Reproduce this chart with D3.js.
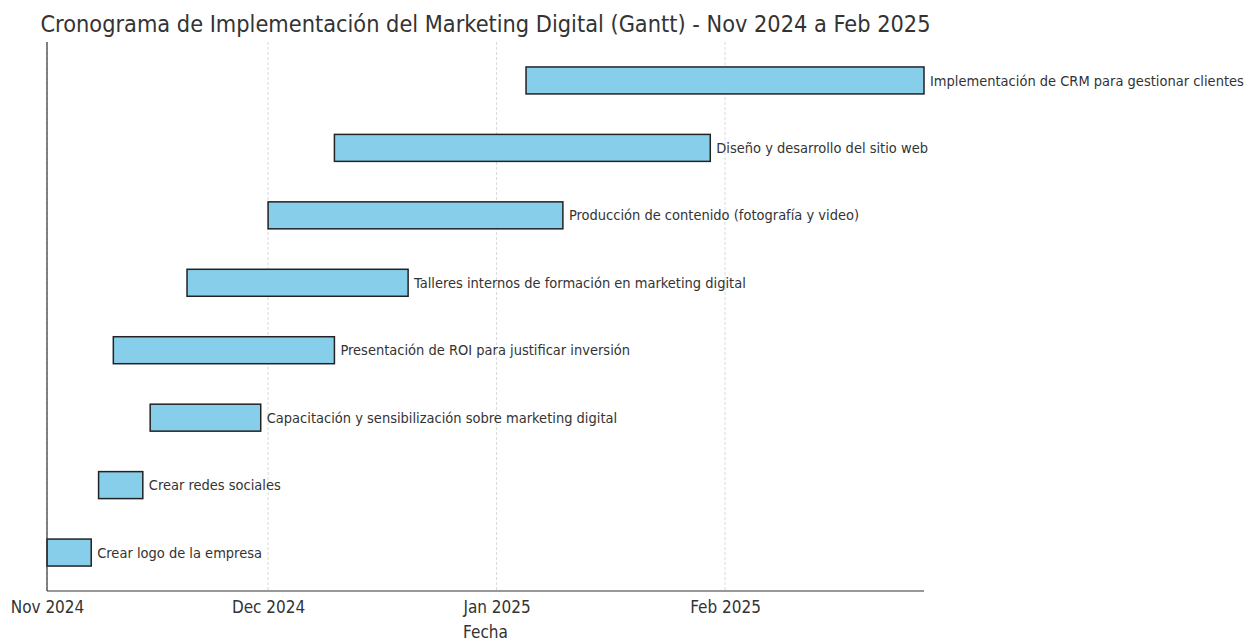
<!DOCTYPE html>
<html>
<head>
<meta charset="utf-8">
<script src="https://cdn.jsdelivr.net/npm/d3@7"></script>
<style>
  html, body { margin: 0; padding: 0; background: #fff; }
  svg text { font-family: "DejaVu Sans Condensed", "DejaVu Sans", sans-serif; font-stretch: condensed; fill: #333; }
</style>
</head>
<body>
<svg id="chart" width="1258" height="642"></svg>
<script>
// Tasks, listed bottom to top
const tasks = [
  "Crear logo de la empresa",
  "Crear redes sociales",
  "Capacitación y sensibilización sobre marketing digital",
  "Presentación de ROI para justificar inversión",
  "Talleres internos de formación en marketing digital",
  "Producción de contenido (fotografía y video)",
  "Diseño y desarrollo del sitio web",
  "Implementación de CRM para gestionar clientes"
];
const starts = ["2024-11-01", "2024-11-08", "2024-11-15", "2024-11-10", "2024-11-20", "2024-12-01", "2024-12-10", "2025-01-05"];
const ends   = ["2024-11-07", "2024-11-14", "2024-11-30", "2024-12-10", "2024-12-20", "2025-01-10", "2025-01-30", "2025-02-28"];
const tickDates = ["2024-11-01", "2024-12-01", "2025-01-01", "2025-02-01"];
const tickLabels = ["Nov 2024", "Dec 2024", "Jan 2025", "Feb 2025"];

const parse = d3.utcParse("%Y-%m-%d");
const svg = d3.select("#chart");

const plotLeft = 47, plotRight = 924, plotTop = 42, plotBottom = 591;
const barH = 0.4;

const x = d3.scaleUtc()
  .domain([d3.min(starts, parse), d3.max(ends, parse)])
  .range([plotLeft, plotRight]);

const pad = 0.2 + 0.05 * (tasks.length - 1 + barH);
const y = d3.scaleLinear()
  .domain([-pad, tasks.length - 1 + pad])
  .range([plotBottom, plotTop]);

// vertical grid at month starts
svg.append("g")
  .selectAll("line")
  .data(tickDates)
  .join("line")
  .attr("x1", d => x(parse(d))).attr("x2", d => x(parse(d)))
  .attr("y1", plotTop).attr("y2", plotBottom)
  .attr("stroke", "#d0d0d0")
  .attr("stroke-width", 0.8)
  .attr("stroke-dasharray", "3,2");

// bars
const rows = tasks.map((t, i) => ({ t, i, s: parse(starts[i]), e: parse(ends[i]) }));
svg.append("g")
  .selectAll("rect")
  .data(rows)
  .join("rect")
  .attr("x", d => x(d.s))
  .attr("y", d => y(d.i + barH / 2))
  .attr("width", d => x(d.e) - x(d.s))
  .attr("height", d => y(d.i - barH / 2) - y(d.i + barH / 2))
  .attr("fill", "#87CEEB")
  .attr("stroke", "#222")
  .attr("stroke-width", 1.5);

// task labels to the right of each bar
svg.append("g")
  .selectAll("text")
  .data(rows)
  .join("text")
  .attr("x", d => x(d.e) + 6)
  .attr("y", d => y(d.i))
  .attr("dy", "0.35em")
  .attr("font-size", 14.5)
  .text(d => d.t);

// x axis
const xAxis = d3.axisBottom(x)
  .tickValues(tickDates.map(parse))
  .tickFormat((d, i) => tickLabels[i])
  .tickSize(0)
  .tickPadding(10);
const gx = svg.append("g")
  .attr("transform", `translate(0,${plotBottom})`)
  .call(xAxis);
gx.select(".domain").remove();
gx.selectAll("text").attr("font-size", 17).attr("font-family", null).attr("fill", "#333");

// spines
svg.append("line").attr("x1", plotLeft).attr("x2", plotRight).attr("y1", plotBottom).attr("y2", plotBottom)
  .attr("stroke", "#333").attr("stroke-width", 1.2);
svg.append("line").attr("x1", plotLeft).attr("x2", plotLeft).attr("y1", plotTop).attr("y2", plotBottom)
  .attr("stroke", "#333").attr("stroke-width", 1.2);

// axis title
svg.append("text")
  .attr("x", (plotLeft + plotRight) / 2)
  .attr("y", 638)
  .attr("text-anchor", "middle")
  .attr("font-size", 17)
  .text("Fecha");

// chart title
svg.append("text")
  .attr("x", (plotLeft + plotRight) / 2)
  .attr("y", 32)
  .attr("text-anchor", "middle")
  .attr("font-size", 23.3)
  .text("Cronograma de Implementación del Marketing Digital (Gantt) - Nov 2024 a Feb 2025");
</script>
</body>
</html>
